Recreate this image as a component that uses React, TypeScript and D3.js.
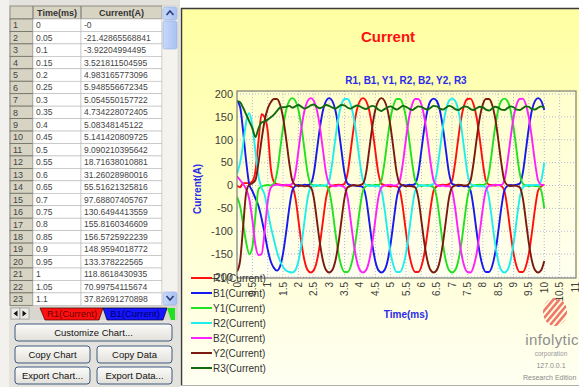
import React from 'react';
import * as d3 from 'd3';

// ---------- DATA ----------
const timeMs = [
  0, 0.1, 0.2, 0.3, 0.4, 0.5, 0.6, 0.7, 0.8, 0.9,
  1, 1.1, 1.2, 1.3, 1.4, 1.5, 1.6, 1.7, 1.8, 1.9,
  2, 2.1, 2.2, 2.3, 2.4, 2.5, 2.6, 2.7, 2.8, 2.9,
  3, 3.1, 3.2, 3.3, 3.4, 3.5, 3.6, 3.7, 3.8, 3.9,
  4, 4.1, 4.2, 4.3, 4.4, 4.5, 4.6, 4.7, 4.8, 4.9,
  5, 5.1, 5.2, 5.3, 5.4, 5.5, 5.6, 5.7, 5.8, 5.9,
  6, 6.1, 6.2, 6.3, 6.4, 6.5, 6.6, 6.7, 6.8, 6.9,
  7, 7.1, 7.2, 7.3, 7.4, 7.5, 7.6, 7.7, 7.8, 7.9,
  8, 8.1, 8.2, 8.3, 8.4, 8.5, 8.6, 8.7, 8.8, 8.9,
  9, 9.1, 9.2, 9.3, 9.4, 9.5, 9.6, 9.7, 9.8, 9.9,
  10,
];

const r1 = [
  0, -3.9, 5.0, 5.1, 5.1, 9.1, 31.3, 97.7, 155.8, 149.0,
  118.9, 37.8, 8, 3, 2, 1, 0, -1, -4, -27,
  -76, -127, -165, -185, -190, -185, -165, -127, -76, -27,
  -4, 0, 1, 2, 1, 4, 27, 76, 127, 165,
  185, 191, 185, 165, 127, 76, 27, 4, 1, -1,
  -2, -1, -2, -11, -50, -102, -148, -177, -189, -189,
  -177, -148, -102, -50, -11, -2, 1, 2, 1, 3,
  11, 50, 102, 148, 177, 189, 190, 177, 148, 102,
  50, 11, 2, 1, 0, 1, -1, -11, -50, -102,
  -148, -177, -189, -189, -177, -148, -102, -50, -11, -2,
  2,
];

const b1 = [
  185, 172, 118, 52, 2, -12, -28, -45, -72, -105,
  -140, -166, -180, -186, -177, -148, -102, -50, -11, -1,
  1, 0, 2, 1, 4, 27, 76, 127, 165, 185,
  191, 185, 165, 127, 76, 27, 4, 1, 0, -1,
  -1, -4, -27, -76, -127, -165, -185, -190, -185, -165,
  -127, -76, -27, -4, 1, 0, 2, 1, 4, 27,
  76, 127, 165, 185, 190, 185, 165, 127, 76, 27,
  4, 1, -1, 0, -2, -1, -11, -50, -102, -148,
  -177, -189, -189, -177, -148, -102, -50, -11, -1, 1,
  0, 2, 4, 27, 76, 127, 165, 185, 191, 185,
  165,
];

const y1 = [
  -25, -45, -85, -125, -150, -135, -65, -8, -2, 0,
  1, 0, 4, 27, 76, 127, 165, 185, 191, 185,
  165, 127, 76, 27, 4, 0, -1, 1, 0, -1,
  -11, -50, -102, -148, -177, -189, -189, -177, -148, -102,
  -50, -11, -1, 1, 0, 2, 1, 11, 50, 102,
  148, 177, 189, 189, 177, 148, 102, 50, 11, 1,
  -1, 0, 1, -1, -4, -27, -76, -127, -165, -185,
  -190, -185, -165, -127, -76, -27, -4, 0, 1, 2,
  1, 4, 27, 76, 127, 165, 185, 190, 185, 165,
  127, 76, 27, 4, 0, -1, 0, -1, -1, -11,
  -50,
];

const r2 = [
  25, 50, 90, 140, 158, 130, 75, 20, -5, -20,
  -55, -90, -118, -145, -165, -178, -186, -189, -190, -185,
  -165, -127, -76, -27, -4, 0, 1, -1, 0, 1,
  11, 50, 102, 148, 177, 189, 189, 177, 148, 102,
  50, 11, 1, -1, 0, -2, -1, -11, -50, -102,
  -148, -177, -189, -189, -177, -148, -102, -50, -11, -1,
  1, 0, -1, 1, 4, 27, 76, 127, 165, 185,
  190, 185, 165, 127, 76, 27, 4, 0, -1, -2,
  -1, -4, -27, -76, -127, -165, -185, -190, -185, -165,
  -127, -76, -27, -4, 0, 1, 0, 1, 1, 11,
  50,
];

const b2 = [
  20, 12, 3, -8, -30, -75, -130, -152, -150, -100,
  -35, -5, 1, 2, 1, 0, 2, 1, 4, 27,
  76, 127, 165, 185, 191, 185, 165, 127, 76, 27,
  4, -1, -2, 0, -1, -4, -27, -76, -127, -165,
  -185, -190, -185, -165, -127, -76, -27, -4, 0, 1,
  2, 0, 1, 11, 50, 102, 148, 177, 189, 189,
  177, 148, 102, 50, 11, 1, -1, 0, -2, -1,
  -11, -50, -102, -148, -177, -189, -190, -177, -148, -102,
  -50, -11, -1, 0, 2, 1, 1, 11, 50, 102,
  148, 177, 189, 190, 177, 148, 102, 50, 11, 2,
  1,
];

const y2 = [
  -188, -165, -90, -15, 2, 5, 12, 50, 100, 142,
  168, 182, 189, 189, 177, 148, 102, 50, 11, 1,
  -1, 0, -2, -1, -4, -27, -76, -127, -165, -185,
  -190, -185, -165, -127, -76, -27, -4, -1, 1, 0,
  1, 4, 27, 76, 127, 165, 185, 191, 185, 165,
  127, 76, 27, 4, 0, -2, -1, -2, -4, -27,
  -76, -127, -165, -185, -190, -185, -165, -127, -76, -27,
  -4, 0, 2, 1, 0, 1, 11, 50, 102, 148,
  177, 189, 189, 177, 148, 102, 50, 11, 1, -1,
  0, -1, -4, -27, -76, -127, -165, -185, -190, -185,
  -165,
];

const r3 = [
  185, 182, 170, 155, 140, 125, 106, 125, 138, 140,
  144, 149, 155, 163, 170, 171, 172, 174, 170, 173,
  176, 172, 168, 171, 175, 177, 172, 169, 172, 176,
  174, 170, 168, 172, 176, 175, 170, 168, 172, 175,
  173, 169, 167, 171, 174, 172, 166, 163, 167, 171,
  173, 169, 166, 170, 174, 172, 168, 165, 169, 173,
  172, 168, 166, 170, 174, 173, 168, 166, 170, 174,
  172, 167, 165, 169, 173, 172, 167, 165, 169, 172,
  171, 166, 164, 168, 172, 170, 166, 165, 169, 173,
  171, 166, 165, 169, 173, 172, 167, 166, 170, 173,
  170,
];

const seriesNames = ['R1(Current)', 'B1(Current)', 'Y1(Current)', 'R2(Current)', 'B2(Current)', 'Y2(Current)', 'R3(Current)'];
const seriesColors = ['#ff1010', '#1818f0', '#22e022', '#20eeee', '#ff20ff', '#7a1a10', '#106a10'];
const seriesValues = [r1, b1, y1, r2, b2, y2, r3];

const xTicks = [0, 0.5, 1, 1.5, 2, 2.5, 3, 3.5, 4, 4.5, 5, 5.5, 6, 6.5, 7, 7.5, 8, 8.5, 9, 9.5, 10, 10.5, 11];
const yTicks = [-200, -150, -100, -50, 0, 50, 100, 150, 200];

const tableTime = ['0', '0.05', '0.1', '0.15', '0.2', '0.25', '0.3', '0.35', '0.4', '0.45', '0.5', '0.55', '0.6', '0.65', '0.7', '0.75', '0.8', '0.85', '0.9', '0.95', '1', '1.05', '1.1'];
const tableCurrent = [
  '-0', '-21.42865568841', '-3.92204994495', '3.521811504595', '4.983165773096', '5.948556672345',
  '5.054550157722', '4.734228072405', '5.08348145122', '5.141420809725', '9.090210395642',
  '18.71638010881', '31.26028980016', '55.51621325816', '97.68807405767', '130.6494413559',
  '155.8160346609', '156.5725922239', '148.9594018772', '133.378222565', '118.8618430935',
  '70.99754115674', '37.82691270898',
];

const FONT = '"Liberation Sans", Arial, sans-serif';

export default function App() {
  const W = 579, H = 387;
  const plot = { left: 237, right: 576, top: 91, bottom: 278 };
  const x = d3.scaleLinear().domain([0, 11]).range([237, 575]);
  const y = d3.scaleLinear().domain([-200, 200]).range([277, 94]);

  const line = d3.line<[number, number]>()
    .x(d => x(d[0]))
    .y(d => y(d[1]))
    .curve(d3.curveMonotoneX);

  const tX = [10, 33, 81, 162];
  const headTop = 6, headBot = 19, rowH = 12.45;

  const btn = (bx: number, by: number, bw: number, bh: number, label: string, key: string) => (
    <g key={key}>
      <rect x={bx} y={by} width={bw} height={bh} rx={3} fill="url(#btnGrad)" stroke="#3c5a80" strokeWidth={1} />
      <text x={bx + bw / 2} y={by + bh / 2} dy="0.35em" textAnchor="middle" fontSize={9.5} fill="#111" fontFamily={FONT}>{label}</text>
    </g>
  );

  return (
    <svg width={W} height={H} style={{ position: 'absolute', left: 0, top: 0 }} fontFamily={FONT}>
      <defs>
        <linearGradient id="panelGrad" x1="0" y1="0" x2="0" y2="1">
          <stop offset="0" stopColor="#ffffa2" />
          <stop offset="1" stopColor="#fffff2" />
        </linearGradient>
        <linearGradient id="plotGrad" x1="0" y1="0" x2="0" y2="1">
          <stop offset="0" stopColor="#ffffcc" />
          <stop offset="1" stopColor="#fffff0" />
        </linearGradient>
        <linearGradient id="btnGrad" x1="0" y1="0" x2="0" y2="1">
          <stop offset="0" stopColor="#fbfbf9" />
          <stop offset="1" stopColor="#e2e0da" />
        </linearGradient>
        <linearGradient id="scrollGrad" x1="0" y1="0" x2="1" y2="0">
          <stop offset="0" stopColor="#c8d8fa" />
          <stop offset="1" stopColor="#a9c1f0" />
        </linearGradient>
        <clipPath id="plotClip">
          <rect x={plot.left} y={plot.top} width={plot.right - plot.left} height={plot.bottom - plot.top} />
        </clipPath>
        <clipPath id="logoClip">
          <ellipse cx={555} cy={312} rx={12} ry={14} />
        </clipPath>
      </defs>

      <rect x={0} y={0} width={W} height={H} fill="#ffffff" />

      {/* ---------- LEFT PANEL ---------- */}
      <rect x={0} y={0} width={180} height={H} fill="#e4e2dc" />
      <rect x={0} y={0} width={9} height={H} fill="#f2f1ee" />

      <rect x={tX[0]} y={headTop} width={tX[3] - tX[0]} height={headBot - headTop} fill="#d8d4c4" stroke="#7a7a70" strokeWidth={0.8} />
      {[1, 2].map(i => (
        <line key={'hd' + i} x1={tX[i]} x2={tX[i]} y1={headTop} y2={headBot} stroke="#6e6e66" strokeWidth={1} />
      ))}
      <text x={(tX[1] + tX[2]) / 2} y={(headTop + headBot) / 2} dy="0.35em" textAnchor="middle" fontSize={9} fontWeight="bold" fill="#333">Time(ms)</text>
      <text x={(tX[2] + tX[3]) / 2} y={(headTop + headBot) / 2} dy="0.35em" textAnchor="middle" fontSize={9} fontWeight="bold" fill="#333">Current(A)</text>

      {tableTime.map((t, i) => {
        const ry = headBot + i * rowH;
        return (
          <g key={'row' + i}>
            <rect x={tX[0]} y={ry} width={tX[1] - tX[0]} height={rowH} fill="#d8d4c4" stroke="#6e6e66" strokeWidth={0.8} />
            <rect x={tX[1]} y={ry} width={tX[2] - tX[1]} height={rowH} fill="#ffffff" stroke="#b8b8b8" strokeWidth={0.6} />
            <rect x={tX[2]} y={ry} width={tX[3] - tX[2]} height={rowH} fill="#ffffff" stroke="#b8b8b8" strokeWidth={0.6} />
            <text x={tX[0] + 3} y={ry + rowH / 2} dy="0.35em" fontSize={9} fill="#444">{i + 1}</text>
            <text x={tX[1] + 3} y={ry + rowH / 2} dy="0.35em" fontSize={8.5} fill="#444">{t}</text>
            <text x={tX[2] + 3} y={ry + rowH / 2} dy="0.35em" fontSize={8.5} fill="#444">{tableCurrent[i]}</text>
          </g>
        );
      })}

      <rect x={162} y={headTop} width={16} height={headBot + 23 * rowH - headTop} fill="#f4f3ee" stroke="#c8c8c0" strokeWidth={0.6} />
      <rect x={163} y={headTop + 1} width={14} height={13} rx={2} fill="url(#scrollGrad)" stroke="#98b0e0" strokeWidth={0.6} />
      <path d="M166.5,15 L170,11 L173.5,15" fill="none" stroke="#2a3f7a" strokeWidth={1.6} />
      <rect x={163} y={21} width={14} height={28} rx={2} fill="url(#scrollGrad)" stroke="#98b0e0" strokeWidth={0.6} />
      <rect x={163} y={292} width={14} height={13} rx={2} fill="url(#scrollGrad)" stroke="#98b0e0" strokeWidth={0.6} />
      <path d="M166.5,296 L170,300 L173.5,296" fill="none" stroke="#2a3f7a" strokeWidth={1.6} />

      <rect x={10} y={306} width={168} height={14} fill="#d8d6ce" />
      <rect x={11} y={308} width={9} height={11} fill="#ecebe6" stroke="#888" strokeWidth={0.6} />
      <rect x={20} y={308} width={9} height={11} fill="#ecebe6" stroke="#888" strokeWidth={0.6} />
      <path d="M17.5,310.5 L13.5,313.5 L17.5,316.5 Z" fill="#111" />
      <path d="M22.5,310.5 L26.5,313.5 L22.5,316.5 Z" fill="#111" />
      <path d="M40,308 L103,308 L99,320 L45,320 Z" fill="#ff1010" stroke="#400" strokeWidth={0.7} />
      <text x={72} y={314} dy="0.35em" textAnchor="middle" fontSize={9.5} fill="#6a0000">R1(Current)</text>
      <path d="M103,308 L167,308 L163,320 L107,320 Z" fill="#1515ff" stroke="#002" strokeWidth={0.7} />
      <text x={135} y={314} dy="0.35em" textAnchor="middle" fontSize={9.5} fill="#000060">B1(Current)</text>
      <path d="M167,308 L175,308 L175,320 L171,320 Z" fill="#20e020" />

      {btn(15, 324, 157, 17, 'Customize Chart...', 'b1')}
      {btn(15, 346, 75, 17, 'Copy Chart', 'b2')}
      {btn(97, 346, 75, 17, 'Copy Data', 'b3')}
      {btn(15, 367, 75, 17, 'Export Chart...', 'b4')}
      {btn(97, 367, 75, 17, 'Export Data...', 'b5')}

      {/* ---------- CHART PANEL ---------- */}
      <rect x={181} y={8} width={W - 181} height={377} fill="url(#panelGrad)" />
      <line x1={181} x2={W} y1={8.5} y2={8.5} stroke="#3a3a3a" strokeWidth={1.5} />
      <line x1={181.5} x2={181.5} y1={8} y2={386} stroke="#3a3a3a" strokeWidth={1.5} />
      <line x1={181} x2={W} y1={385.5} y2={385.5} stroke="#b0b0a8" strokeWidth={1} />

      <text x={388} y={37} dy="0.35em" textAnchor="middle" fontSize={15} fontWeight="bold" fill="#ff1010">Current</text>
      <text x={406} y={80} dy="0.35em" textAnchor="middle" fontSize={10} fontWeight="bold" fill="#2a2ae8">R1, B1, Y1, R2, B2, Y2, R3</text>

      <rect x={plot.left} y={plot.top} width={plot.right - plot.left} height={plot.bottom - plot.top} fill="url(#plotGrad)" />
      {xTicks.filter(v => v > 0 && v < 11).map(v => (
        <line key={'gx' + v} x1={x(v)} x2={x(v)} y1={plot.top} y2={plot.bottom} stroke="#b4b8d8" strokeWidth={1} strokeDasharray="1,2" />
      ))}
      {yTicks.map(v => (
        <line key={'gy' + v} x1={plot.left} x2={plot.right} y1={y(v)} y2={y(v)} stroke="#b4b8d8" strokeWidth={1} strokeDasharray="1,2" />
      ))}
      <g clipPath="url(#plotClip)">
        {seriesValues.map((vals, si) => (
          <path
            key={'s' + si}
            d={line(timeMs.map((t, i) => [t, vals[i]] as [number, number])) || ''}
            fill="none"
            stroke={seriesColors[si]}
            strokeWidth={1.9}
            strokeLinejoin="round"
          />
        ))}
      </g>
      <rect x={plot.left} y={plot.top} width={plot.right - plot.left} height={plot.bottom - plot.top} fill="none" stroke="#7c7c7c" strokeWidth={1.2} />

      {yTicks.map(v => (
        <text key={'yt' + v} x={233} y={y(v)} dy="0.35em" textAnchor="end" fontSize={11} fill="#404040">{v}</text>
      ))}
      {xTicks.map(v => (
        <text key={'xt' + v} transform={`translate(${x(v)},282) rotate(-90)`} dy="0.35em" textAnchor="end" fontSize={10} fill="#404040">{String(v)}</text>
      ))}

      <text transform="translate(197,189) rotate(-90)" dy="0.35em" textAnchor="middle" fontSize={10} fontWeight="bold" fill="#2a2ae8">Current(A)</text>
      <text x={406} y={314} dy="0.35em" textAnchor="middle" fontSize={10} fontWeight="bold" fill="#2a2ae8">Time(ms)</text>

      {seriesNames.map((n, i) => {
        const ly = 278 + i * 15;
        return (
          <g key={'lg' + i}>
            <line x1={191} x2={212} y1={ly} y2={ly} stroke={seriesColors[i]} strokeWidth={2} />
            <text x={213} y={ly} dy="0.35em" fontSize={10} fill="#333">{n}</text>
          </g>
        );
      })}

      <g clipPath="url(#logoClip)">
        {[-30, -24, -18, -12, -6, 0, 6, 12, 18, 24, 30].map(o => (
          <line key={'lo' + o} x1={540 + o} y1={330} x2={570 + o} y2={294} stroke="#f07868" strokeWidth={2.6} />
        ))}
      </g>
      <text x={552} y={340} dy="0.35em" textAnchor="middle" fontSize={15} fill="#8e8e8e" letterSpacing={0.4}>infolytic</text>
      <text x={551} y={354} dy="0.35em" textAnchor="middle" fontSize={6.5} fill="#9a9a9a">corporation</text>
      <text x={551} y={366} dy="0.35em" textAnchor="middle" fontSize={7} fill="#8a8a8a">127.0.0.1</text>
      <text x={523} y={378} dy="0.35em" fontSize={7} fill="#8a8a8a">Research Edition</text>
    </svg>
  );
}
